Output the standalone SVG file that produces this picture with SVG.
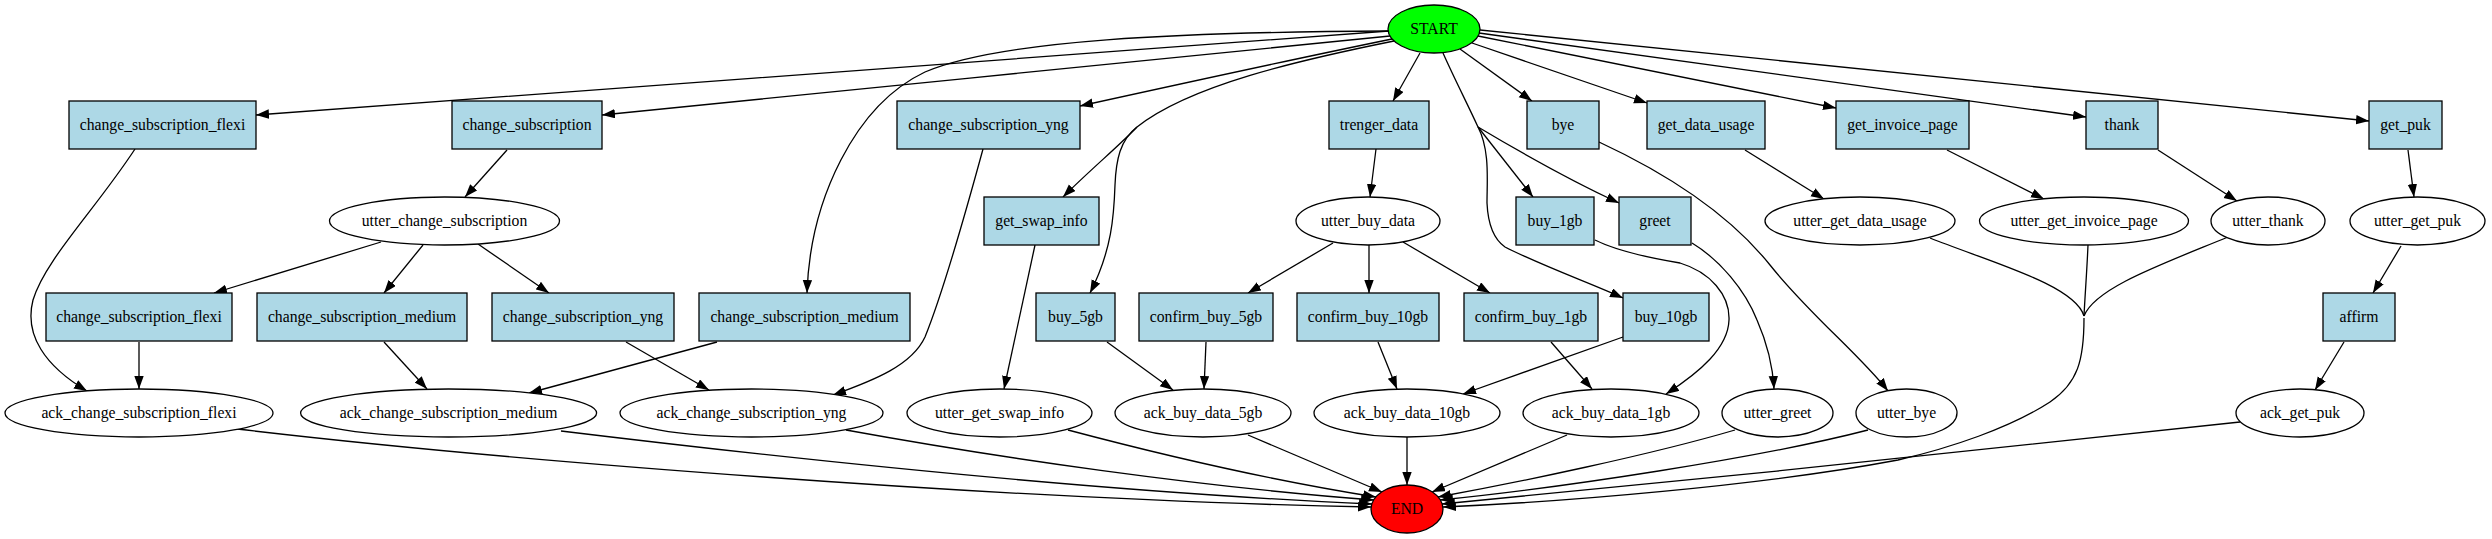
<svg xmlns="http://www.w3.org/2000/svg" width="2492" height="539" viewBox="0 0 2492 539">
<defs>
<style>
.box{fill:#add8e6;stroke:#000;stroke-width:1.3}
.ell{fill:#fff;stroke:#000;stroke-width:1.3}
.t{font-family:"Liberation Serif","Times New Roman",serif;font-size:15.7px;text-anchor:middle;fill:#000}
.e{fill:none;stroke:#000;stroke-width:1.3}
.a{marker-end:url(#ah)}
</style>
<marker id="ah" markerUnits="userSpaceOnUse" markerWidth="14" markerHeight="10" refX="13" refY="4.7" orient="auto"><path d="M0,0 L13,4.7 L0,9.4 z" fill="#000"/></marker>
</defs>
<rect width="2492" height="539" fill="#fff"/>
<g id="edges">
<path class="e a" d="M1389,31 C1100,52 600,90 256,115"/>
<path class="e a" d="M1390,36 C1150,60 850,90 602,115"/>
<path class="e a" d="M1392,39 C1280,62 1180,84 1080,106"/>
<path class="e a" d="M1389,31 C1180,32 1000,40 925,72 C855,105 810,200 807,293"/>
<path class="e" d="M1394,41 C1300,60 1190,85 1137,127"/>
<path class="e a" d="M1137,127 C1120,145 1090,170 1063,197"/>
<path class="e a" d="M1137,127 C1120,140 1116,160 1115,185 C1114,215 1112,250 1090,293"/>
<path class="e a" d="M1420,53 L1393,101"/>
<path class="e" d="M1443,53 C1455,80 1468,105 1478,127"/>
<path class="e a" d="M1478,127 L1533,197"/>
<path class="e a" d="M1478,127 C1530,158 1580,185 1619,203"/>
<path class="e a" d="M1478,127 C1490,150 1487,180 1487,203 C1488,225 1495,240 1505,247 C1540,265 1590,283 1623,298"/>
<path class="e a" d="M1460,49 L1532,101"/>
<path class="e a" d="M1472,43 L1647,103"/>
<path class="e a" d="M1478,36 L1836,108"/>
<path class="e a" d="M1479,33 L2086,117"/>
<path class="e a" d="M1480,30 L2369,121"/>
<path class="e a" d="M135,149 C95,210 45,260 33,300 C24,335 45,366 87,391"/>
<path class="e a" d="M507,150 L465,197"/>
<path class="e a" d="M381,242 L214,293"/>
<path class="e a" d="M423,245 L384,293"/>
<path class="e a" d="M478,244 L549,293"/>
<path class="e a" d="M983,149 C965,215 940,300 925,337 C912,365 875,380 833,395"/>
<path class="e a" d="M1376,149 L1370,197"/>
<path class="e a" d="M1035,245 L1004,389"/>
<path class="e a" d="M1333,243 L1248,293"/>
<path class="e a" d="M1369,245 L1369,293"/>
<path class="e a" d="M1403,242 L1490,293"/>
<path class="e a" d="M1599,142 C1670,175 1730,215 1770,265 C1810,315 1860,355 1888,391"/>
<path class="e a" d="M1595,240 C1615,250 1650,258 1680,263 C1710,272 1730,295 1729,320 C1728,348 1700,372 1666,394"/>
<path class="e a" d="M1692,243 C1720,260 1745,290 1757,320 C1768,345 1773,370 1774,389"/>
<path class="e a" d="M1745,150 L1824,199"/>
<path class="e a" d="M1947,150 L2044,199"/>
<path class="e a" d="M2158,150 L2237,201"/>
<path class="e a" d="M2408,150 L2414,197"/>
<path class="e a" d="M2401,246 L2373,293"/>
<path class="e a" d="M2344,342 L2315,390"/>
<path class="e a" d="M139,342 L139,389"/>
<path class="e a" d="M384,342 L427,389"/>
<path class="e a" d="M717,342 L529,393"/>
<path class="e a" d="M626,342 L709,390"/>
<path class="e a" d="M1107,342 L1173,390"/>
<path class="e a" d="M1206,342 L1204,389"/>
<path class="e a" d="M1378,342 L1397,389"/>
<path class="e a" d="M1551,342 L1592,389"/>
<path class="e a" d="M1623,337 L1463,394"/>
<path class="e" d="M1930,238 C1990,262 2075,285 2084,316"/>
<path class="e" d="M2088,245 C2087,270 2085,295 2084,316"/>
<path class="e" d="M2228,237 C2160,265 2095,288 2084,316"/>
<path class="e a" d="M2084,318 C2084,360 2078,383 2050,402 C2010,428 1950,448 1898,460 C1760,486 1560,502 1443,507"/>
<path class="e a" d="M2240,422 C2000,448 1700,480 1442,504"/>
<path class="e a" d="M1868,430 C1760,458 1560,488 1440,500"/>
<path class="e a" d="M1735,430 C1650,455 1520,482 1438,497"/>
<path class="e a" d="M1567,435 L1432,492"/>
<path class="e a" d="M1407,437 L1407,485"/>
<path class="e a" d="M1248,435 L1382,492"/>
<path class="e a" d="M1068,430 C1200,465 1300,485 1376,497"/>
<path class="e a" d="M846,430 C1000,458 1200,487 1374,500"/>
<path class="e a" d="M561,431 C800,460 1100,492 1372,504"/>
<path class="e a" d="M237,429 C500,460 1000,500 1371,507"/>
</g>
<g id="START"><ellipse cx="1434" cy="29" rx="46" ry="24" fill="#00ff00" stroke="#000" stroke-width="1.3"/><text class="t" x="1434" y="34">START</text></g>
<g id="END"><ellipse cx="1407" cy="509" rx="36" ry="24" fill="#ff0000" stroke="#000" stroke-width="1.3"/><text class="t" x="1407" y="514">END</text></g>
<g id="n_csf1"><rect class="box" x="69" y="101" width="187" height="48"/><text class="t" x="162.5" y="130">change_subscription_flexi</text></g>
<g id="n_cs"><rect class="box" x="452" y="101" width="150" height="48"/><text class="t" x="527" y="130">change_subscription</text></g>
<g id="n_csy1"><rect class="box" x="897" y="101" width="183" height="48"/><text class="t" x="988.5" y="130">change_subscription_yng</text></g>
<g id="n_trenger"><rect class="box" x="1329" y="101" width="100" height="48"/><text class="t" x="1379" y="130">trenger_data</text></g>
<g id="n_bye"><rect class="box" x="1527" y="101" width="72" height="48"/><text class="t" x="1563" y="130">bye</text></g>
<g id="n_gdu"><rect class="box" x="1647" y="101" width="118" height="48"/><text class="t" x="1706" y="130">get_data_usage</text></g>
<g id="n_gip"><rect class="box" x="1836" y="101" width="133" height="48"/><text class="t" x="1902.5" y="130">get_invoice_page</text></g>
<g id="n_thank"><rect class="box" x="2086" y="101" width="72" height="48"/><text class="t" x="2122" y="130">thank</text></g>
<g id="n_getpuk"><rect class="box" x="2369" y="101" width="73" height="48"/><text class="t" x="2405.5" y="130">get_puk</text></g>
<g id="n_ucs"><ellipse class="ell" cx="444.5" cy="221" rx="115" ry="24"/><text class="t" x="444.5" y="226">utter_change_subscription</text></g>
<g id="n_gsi"><rect class="box" x="984" y="197" width="115" height="48"/><text class="t" x="1041.5" y="226">get_swap_info</text></g>
<g id="n_ubd"><ellipse class="ell" cx="1368" cy="221" rx="72" ry="24"/><text class="t" x="1368" y="226">utter_buy_data</text></g>
<g id="n_b1gb"><rect class="box" x="1516" y="197" width="78" height="48"/><text class="t" x="1555" y="226">buy_1gb</text></g>
<g id="n_greet"><rect class="box" x="1619" y="197" width="72" height="48"/><text class="t" x="1655" y="226">greet</text></g>
<g id="n_ugdu"><ellipse class="ell" cx="1860" cy="221" rx="95" ry="24"/><text class="t" x="1860" y="226">utter_get_data_usage</text></g>
<g id="n_ugip"><ellipse class="ell" cx="2084" cy="221" rx="104.5" ry="24"/><text class="t" x="2084" y="226">utter_get_invoice_page</text></g>
<g id="n_uthank"><ellipse class="ell" cx="2268" cy="221" rx="57" ry="24"/><text class="t" x="2268" y="226">utter_thank</text></g>
<g id="n_ugp"><ellipse class="ell" cx="2417.5" cy="221" rx="67.5" ry="24"/><text class="t" x="2417.5" y="226">utter_get_puk</text></g>
<g id="n_csf2"><rect class="box" x="46" y="293" width="186" height="48"/><text class="t" x="139" y="322">change_subscription_flexi</text></g>
<g id="n_csm1"><rect class="box" x="257" y="293" width="210" height="48"/><text class="t" x="362" y="322">change_subscription_medium</text></g>
<g id="n_csy2"><rect class="box" x="492" y="293" width="182" height="48"/><text class="t" x="583" y="322">change_subscription_yng</text></g>
<g id="n_csm2"><rect class="box" x="699" y="293" width="211" height="48"/><text class="t" x="804.5" y="322">change_subscription_medium</text></g>
<g id="n_b5gb"><rect class="box" x="1036" y="293" width="79" height="48"/><text class="t" x="1075.5" y="322">buy_5gb</text></g>
<g id="n_cb5"><rect class="box" x="1139" y="293" width="134" height="48"/><text class="t" x="1206" y="322">confirm_buy_5gb</text></g>
<g id="n_cb10"><rect class="box" x="1297" y="293" width="142" height="48"/><text class="t" x="1368" y="322">confirm_buy_10gb</text></g>
<g id="n_cb1"><rect class="box" x="1464" y="293" width="134" height="48"/><text class="t" x="1531" y="322">confirm_buy_1gb</text></g>
<g id="n_b10gb"><rect class="box" x="1623" y="293" width="86" height="48"/><text class="t" x="1666" y="322">buy_10gb</text></g>
<g id="n_affirm"><rect class="box" x="2323" y="293" width="72" height="48"/><text class="t" x="2359" y="322">affirm</text></g>
<g id="n_acsf"><ellipse class="ell" cx="139" cy="413" rx="134" ry="24"/><text class="t" x="139" y="418">ack_change_subscription_flexi</text></g>
<g id="n_acsm"><ellipse class="ell" cx="448.6" cy="413" rx="148" ry="24"/><text class="t" x="448.6" y="418">ack_change_subscription_medium</text></g>
<g id="n_acsy"><ellipse class="ell" cx="751.5" cy="413" rx="131.5" ry="24"/><text class="t" x="751.5" y="418">ack_change_subscription_yng</text></g>
<g id="n_ugsi"><ellipse class="ell" cx="999.5" cy="413" rx="92.5" ry="24"/><text class="t" x="999.5" y="418">utter_get_swap_info</text></g>
<g id="n_a5"><ellipse class="ell" cx="1203" cy="413" rx="88" ry="24"/><text class="t" x="1203" y="418">ack_buy_data_5gb</text></g>
<g id="n_a10"><ellipse class="ell" cx="1407" cy="413" rx="93" ry="24"/><text class="t" x="1407" y="418">ack_buy_data_10gb</text></g>
<g id="n_a1"><ellipse class="ell" cx="1611" cy="413" rx="88" ry="24"/><text class="t" x="1611" y="418">ack_buy_data_1gb</text></g>
<g id="n_ugreet"><ellipse class="ell" cx="1777.5" cy="413" rx="55.5" ry="24"/><text class="t" x="1777.5" y="418">utter_greet</text></g>
<g id="n_ubye"><ellipse class="ell" cx="1906.5" cy="413" rx="50.5" ry="24"/><text class="t" x="1906.5" y="418">utter_bye</text></g>
<g id="n_agp"><ellipse class="ell" cx="2300" cy="413" rx="64" ry="24"/><text class="t" x="2300" y="418">ack_get_puk</text></g>
</svg>
